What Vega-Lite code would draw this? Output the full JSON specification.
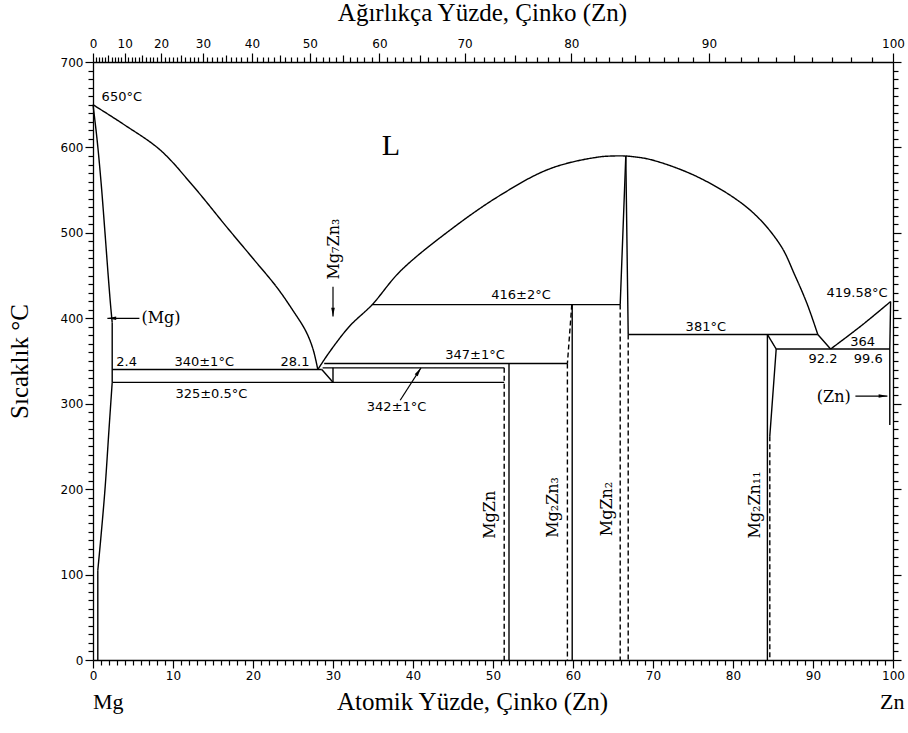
{
  "$schema": "https://vega.github.io/schema/vega-lite/v6.json",
  "autosize": "none",
  "width": 800,
  "height": 598,
  "padding": {"top": 62, "left": 93, "right": 15, "bottom": 73},
  "background": "white",
  "config": {
    "view": {"stroke": null},
    "axis": {"grid": false, "ticks": true, "domainColor": "black", "tickColor": "black", "labelColor": "black", "titleColor": "black", "domainWidth": 1.3, "tickWidth": 1.2, "labelFont": "DejaVu Sans", "labelFontSize": 12, "labelOverlap": false, "labelFlush": false, "titleFont": "Liberation Serif", "titleFontSize": 25, "titleFontWeight": "normal"}
  },
  "datasets": {
    "boundaries": [
      {"curve": "Mg liquidus", "seq": 1, "zn": 0, "temp": 650, "certainty": "known"},
      {"curve": "Mg liquidus", "seq": 2, "zn": 4, "temp": 626, "certainty": "known"},
      {"curve": "Mg liquidus", "seq": 3, "zn": 8.4, "temp": 597, "certainty": "known"},
      {"curve": "Mg liquidus", "seq": 4, "zn": 12.5, "temp": 555, "certainty": "known"},
      {"curve": "Mg liquidus", "seq": 5, "zn": 16.7, "temp": 507, "certainty": "known"},
      {"curve": "Mg liquidus", "seq": 6, "zn": 20, "temp": 470, "certainty": "known"},
      {"curve": "Mg liquidus", "seq": 7, "zn": 23, "temp": 436, "certainty": "known"},
      {"curve": "Mg liquidus", "seq": 8, "zn": 25, "temp": 409, "certainty": "known"},
      {"curve": "Mg liquidus", "seq": 9, "zn": 26.6, "temp": 385, "certainty": "known"},
      {"curve": "Mg liquidus", "seq": 10, "zn": 27.5, "temp": 364, "certainty": "known"},
      {"curve": "Mg liquidus", "seq": 11, "zn": 28.1, "temp": 340, "certainty": "known"},

      {"curve": "Mg solidus", "seq": 1, "zn": 0, "temp": 650, "certainty": "known"},
      {"curve": "Mg solidus", "seq": 2, "zn": 0.5, "temp": 610, "certainty": "known"},
      {"curve": "Mg solidus", "seq": 3, "zn": 1.0, "temp": 560, "certainty": "known"},
      {"curve": "Mg solidus", "seq": 4, "zn": 1.5, "temp": 500, "certainty": "known"},
      {"curve": "Mg solidus", "seq": 5, "zn": 1.9, "temp": 450, "certainty": "known"},
      {"curve": "Mg solidus", "seq": 6, "zn": 2.2, "temp": 415, "certainty": "known"},
      {"curve": "Mg solidus", "seq": 7, "zn": 2.4, "temp": 395, "certainty": "known"},
      {"curve": "Mg solidus limit", "seq": 1, "zn": 2.4, "temp": 395, "certainty": "known"},
      {"curve": "Mg solidus limit", "seq": 2, "zn": 2.4, "temp": 325, "certainty": "known"},

      {"curve": "Mg solvus", "seq": 1, "zn": 2.4, "temp": 325, "certainty": "known"},
      {"curve": "Mg solvus", "seq": 2, "zn": 2.0, "temp": 270, "certainty": "known"},
      {"curve": "Mg solvus", "seq": 3, "zn": 1.5, "temp": 200, "certainty": "known"},
      {"curve": "Mg solvus", "seq": 4, "zn": 1.0, "temp": 145, "certainty": "known"},
      {"curve": "Mg solvus", "seq": 5, "zn": 0.6, "temp": 105, "certainty": "known"},
      {"curve": "Mg solvus low", "seq": 1, "zn": 0.6, "temp": 105, "certainty": "known"},
      {"curve": "Mg solvus low", "seq": 2, "zn": 0.6, "temp": 0, "certainty": "known"},

      {"curve": "eutectic 340", "seq": 1, "zn": 2.4, "temp": 340, "certainty": "known"},
      {"curve": "eutectic 340", "seq": 2, "zn": 28.6, "temp": 340, "certainty": "known"},
      {"curve": "Mg7Zn3 lower", "seq": 1, "zn": 28.6, "temp": 340, "certainty": "known"},
      {"curve": "Mg7Zn3 lower", "seq": 2, "zn": 30, "temp": 325, "certainty": "known"},

      {"curve": "Mg7Zn3", "seq": 1, "zn": 30, "temp": 342, "certainty": "known"},
      {"curve": "Mg7Zn3", "seq": 2, "zn": 30, "temp": 325, "certainty": "known"},

      {"curve": "peritectic 342", "seq": 1, "zn": 28.7, "temp": 342, "certainty": "known"},
      {"curve": "peritectic 342", "seq": 2, "zn": 51.4, "temp": 342, "certainty": "known"},

      {"curve": "peritectic 347", "seq": 1, "zn": 28.9, "temp": 347, "certainty": "known"},
      {"curve": "peritectic 347", "seq": 2, "zn": 59.3, "temp": 347, "certainty": "known"},

      {"curve": "eutectoid 325", "seq": 1, "zn": 2.4, "temp": 325, "certainty": "known"},
      {"curve": "eutectoid 325", "seq": 2, "zn": 51.4, "temp": 325, "certainty": "known"},

      {"curve": "MgZn right", "seq": 1, "zn": 52, "temp": 347, "certainty": "known"},
      {"curve": "MgZn right", "seq": 2, "zn": 52, "temp": 0, "certainty": "known"},
      {"curve": "MgZn left", "seq": 1, "zn": 51.4, "temp": 342, "certainty": "uncertain"},
      {"curve": "MgZn left", "seq": 2, "zn": 51.4, "temp": 0, "certainty": "uncertain"},

      {"curve": "Mg2Zn3 right", "seq": 1, "zn": 59.9, "temp": 416, "certainty": "known"},
      {"curve": "Mg2Zn3 right", "seq": 2, "zn": 59.9, "temp": 0, "certainty": "known"},
      {"curve": "Mg2Zn3 left", "seq": 1, "zn": 59.85, "temp": 416, "certainty": "uncertain"},
      {"curve": "Mg2Zn3 left", "seq": 2, "zn": 59.3, "temp": 347, "certainty": "uncertain"},
      {"curve": "Mg2Zn3 left low", "seq": 1, "zn": 59.3, "temp": 347, "certainty": "uncertain"},
      {"curve": "Mg2Zn3 left low", "seq": 2, "zn": 59.3, "temp": 0, "certainty": "uncertain"},

      {"curve": "peritectic 416", "seq": 1, "zn": 34.9, "temp": 416, "certainty": "known"},
      {"curve": "peritectic 416", "seq": 2, "zn": 65.9, "temp": 416, "certainty": "known"},

      {"curve": "MgZn2 liquidus left", "seq": 1, "zn": 28.1, "temp": 340, "certainty": "known"},
      {"curve": "MgZn2 liquidus left", "seq": 2, "zn": 29.6, "temp": 361, "certainty": "known"},
      {"curve": "MgZn2 liquidus left", "seq": 3, "zn": 32.1, "temp": 391, "certainty": "known"},
      {"curve": "MgZn2 liquidus left", "seq": 4, "zn": 34.9, "temp": 416, "certainty": "known"},
      {"curve": "MgZn2 liquidus left", "seq": 5, "zn": 38.4, "temp": 455, "certainty": "known"},
      {"curve": "MgZn2 liquidus left", "seq": 6, "zn": 44.6, "temp": 503, "certainty": "known"},
      {"curve": "MgZn2 liquidus left", "seq": 7, "zn": 50.9, "temp": 544, "certainty": "known"},
      {"curve": "MgZn2 liquidus left", "seq": 8, "zn": 57.1, "temp": 575, "certainty": "known"},
      {"curve": "MgZn2 liquidus left", "seq": 9, "zn": 63.4, "temp": 589, "certainty": "known"},
      {"curve": "MgZn2 liquidus left", "seq": 10, "zn": 66.6, "temp": 590, "certainty": "known"},

      {"curve": "MgZn2 liquidus right", "seq": 1, "zn": 66.6, "temp": 590, "certainty": "known"},
      {"curve": "MgZn2 liquidus right", "seq": 2, "zn": 69.6, "temp": 586, "certainty": "known"},
      {"curve": "MgZn2 liquidus right", "seq": 3, "zn": 75.9, "temp": 564, "certainty": "known"},
      {"curve": "MgZn2 liquidus right", "seq": 4, "zn": 82.1, "temp": 527, "certainty": "known"},
      {"curve": "MgZn2 liquidus right", "seq": 5, "zn": 85.9, "temp": 486, "certainty": "known"},
      {"curve": "MgZn2 liquidus right", "seq": 6, "zn": 87.75, "temp": 450, "certainty": "known"},
      {"curve": "MgZn2 liquidus right", "seq": 7, "zn": 89.3, "temp": 416, "certainty": "known"},
      {"curve": "MgZn2 liquidus right", "seq": 8, "zn": 90.6, "temp": 381, "certainty": "known"},
      {"curve": "Mg2Zn11 liquidus", "seq": 1, "zn": 90.6, "temp": 381, "certainty": "known"},
      {"curve": "Mg2Zn11 liquidus", "seq": 2, "zn": 92.2, "temp": 364, "certainty": "known"},

      {"curve": "Zn liquidus", "seq": 1, "zn": 92.2, "temp": 364, "certainty": "known"},
      {"curve": "Zn liquidus", "seq": 2, "zn": 96, "temp": 391, "certainty": "known"},
      {"curve": "Zn liquidus", "seq": 3, "zn": 99.7, "temp": 419.58, "certainty": "known"},

      {"curve": "peritectic 381", "seq": 1, "zn": 66.9, "temp": 381, "certainty": "known"},
      {"curve": "peritectic 381", "seq": 2, "zn": 90.6, "temp": 381, "certainty": "known"},

      {"curve": "MgZn2 solidus left", "seq": 1, "zn": 66.6, "temp": 590, "certainty": "known"},
      {"curve": "MgZn2 solidus left", "seq": 2, "zn": 65.9, "temp": 416, "certainty": "known"},
      {"curve": "MgZn2 solidus right", "seq": 1, "zn": 66.6, "temp": 590, "certainty": "known"},
      {"curve": "MgZn2 solidus right", "seq": 2, "zn": 66.9, "temp": 381, "certainty": "known"},
      {"curve": "MgZn2 solvus left", "seq": 1, "zn": 65.9, "temp": 416, "certainty": "uncertain"},
      {"curve": "MgZn2 solvus left", "seq": 2, "zn": 65.9, "temp": 0, "certainty": "uncertain"},
      {"curve": "MgZn2 solvus right", "seq": 1, "zn": 66.9, "temp": 381, "certainty": "uncertain"},
      {"curve": "MgZn2 solvus right", "seq": 2, "zn": 66.9, "temp": 0, "certainty": "uncertain"},

      {"curve": "Mg2Zn11 left", "seq": 1, "zn": 84.3, "temp": 381, "certainty": "known"},
      {"curve": "Mg2Zn11 left", "seq": 2, "zn": 84.3, "temp": 0, "certainty": "known"},
      {"curve": "Mg2Zn11 upper", "seq": 1, "zn": 84.3, "temp": 381, "certainty": "known"},
      {"curve": "Mg2Zn11 upper", "seq": 2, "zn": 85.4, "temp": 364, "certainty": "known"},
      {"curve": "Mg2Zn11 right", "seq": 1, "zn": 85.4, "temp": 364, "certainty": "known"},
      {"curve": "Mg2Zn11 right", "seq": 2, "zn": 84.6, "temp": 262, "certainty": "known"},
      {"curve": "Mg2Zn11 solvus", "seq": 1, "zn": 84.6, "temp": 262, "certainty": "uncertain"},
      {"curve": "Mg2Zn11 solvus", "seq": 2, "zn": 84.6, "temp": 0, "certainty": "uncertain"},

      {"curve": "eutectic 364", "seq": 1, "zn": 85.4, "temp": 364, "certainty": "known"},
      {"curve": "eutectic 364", "seq": 2, "zn": 99.6, "temp": 364, "certainty": "known"},

      {"curve": "Zn solidus", "seq": 1, "zn": 99.7, "temp": 419.58, "certainty": "known"},
      {"curve": "Zn solidus", "seq": 2, "zn": 99.6, "temp": 364, "certainty": "known"},
      {"curve": "Zn solvus", "seq": 1, "zn": 99.6, "temp": 364, "certainty": "known"},
      {"curve": "Zn solvus", "seq": 2, "zn": 99.6, "temp": 275, "certainty": "known"}
    ],
    "pointers": [
      {"target": "(Mg)", "zn": 5.8, "temp": 400, "zn2": 1.8, "temp2": 400, "heading": 270},
      {"target": "(Zn)", "zn": 95.3, "temp": 309, "zn2": 99.3, "temp2": 309, "heading": 90},
      {"target": "Mg7Zn3", "zn": 30, "temp": 437, "zn2": 30, "temp2": 402, "heading": 180},
      {"target": "342", "zn": 38.4, "temp": 304, "zn2": 41, "temp2": 342, "heading": 33}
    ],
    "labels": [
      {"text": "650°C", "zn": 3.6, "temp": 659, "kind": "reading"},
      {"text": "2.4", "zn": 4.2, "temp": 349, "kind": "reading"},
      {"text": "340±1°C", "zn": 13.9, "temp": 349, "kind": "reading"},
      {"text": "28.1", "zn": 25.25, "temp": 349, "kind": "reading"},
      {"text": "325±0.5°C", "zn": 14.8, "temp": 311.5, "kind": "reading"},
      {"text": "347±1°C", "zn": 47.75, "temp": 357, "kind": "reading"},
      {"text": "342±1°C", "zn": 37.95, "temp": 296, "kind": "reading"},
      {"text": "416±2°C", "zn": 53.5, "temp": 427, "kind": "reading"},
      {"text": "381°C", "zn": 76.6, "temp": 390, "kind": "reading"},
      {"text": "419.58°C", "zn": 95.5, "temp": 430, "kind": "reading"},
      {"text": "364", "zn": 96.2, "temp": 372.7, "kind": "reading"},
      {"text": "92.2", "zn": 91.25, "temp": 352.5, "kind": "reading"},
      {"text": "99.6", "zn": 96.9, "temp": 352.5, "kind": "reading"},
      {"text": "L", "zn": 37.25, "temp": 602, "kind": "liquid"},
      {"text": "(Mg)", "zn": 8.5, "temp": 400.5, "kind": "solution"},
      {"text": "(Zn)", "zn": 92.6, "temp": 308, "kind": "solution"},
      {"text": "Mg₇Zn₃", "zn": 30.1, "temp": 481, "kind": "compound"},
      {"text": "MgZn", "zn": 49.6, "temp": 170, "kind": "compound"},
      {"text": "Mg₂Zn₃", "zn": 57.5, "temp": 178.6, "kind": "compound"},
      {"text": "MgZn₂", "zn": 64.25, "temp": 176.8, "kind": "compound"},
      {"text": "Mg₂Zn₁₁", "zn": 82.75, "temp": 181.5, "kind": "compound"},
      {"text": "Mg", "zn": 1.9, "temp": -49, "kind": "element"},
      {"text": "Zn", "zn": 99.9, "temp": -49, "kind": "element"}
    ]
  },
  "resolve": {"axis": {"x": "independent", "y": "independent"}},
  "layer": [
    {
      "data": {"name": "boundaries"},
      "mark": {"type": "line", "color": "black", "strokeWidth": 1.4, "interpolate": "catmull-rom"},
      "encoding": {
        "x": {"field": "zn", "type": "quantitative", "scale": {"domain": [0, 100], "nice": false, "zero": false},
          "axis": {"orient": "bottom", "tickCount": 100, "labelExpr": "datum.value % 10 === 0 ? datum.label : ''",
            "tickSize": {"condition": {"test": "datum.value % 10 === 0", "value": 8}, "value": 5},
            "labelPadding": 2, "title": "Atomik Yüzde, Çinko (Zn)", "titlePadding": 8, "titleX": 379}},
        "y": {"field": "temp", "type": "quantitative", "scale": {"domain": [0, 700], "nice": false, "zero": false},
          "axis": {"orient": "left", "tickCount": 70, "labelExpr": "datum.value % 100 === 0 ? datum.label : ''",
            "tickSize": {"condition": {"test": "datum.value % 100 === 0", "value": 8}, "value": 5},
            "labelPadding": 2, "title": "Sıcaklık °C", "titlePadding": 28}},
        "detail": {"field": "curve"},
        "order": {"field": "seq"},
        "strokeDash": {"field": "certainty", "type": "nominal", "scale": {"domain": ["known", "uncertain"], "range": [[1, 0], [5, 3]]}, "legend": null}
      }
    },
    {
      "data": {"name": "pointers"},
      "mark": {"type": "rule", "color": "black", "strokeWidth": 1.2},
      "encoding": {
        "x": {"field": "zn", "type": "quantitative", "scale": {"domain": [0, 100], "nice": false, "zero": false}, "axis": null},
        "y": {"field": "temp", "type": "quantitative", "scale": {"domain": [0, 700], "nice": false, "zero": false}, "axis": null},
        "x2": {"field": "zn2"},
        "y2": {"field": "temp2"}
      }
    },
    {
      "data": {"name": "pointers"},
      "mark": {"type": "point", "filled": true, "color": "black", "opacity": 1, "size": 64, "shape": "M0,0L-0.45,2.2L0.45,2.2Z"},
      "encoding": {
        "x": {"field": "zn2", "type": "quantitative", "scale": {"domain": [0, 100], "nice": false, "zero": false},
          "axis": {"orient": "top",
            "values": [0, 0.374, 0.753, 1.137, 1.525, 1.919, 2.318, 2.722, 3.132, 3.546, 3.967, 4.393, 4.825, 5.263, 5.707, 6.157, 6.613, 7.076, 7.545, 8.021, 8.504, 8.993, 9.49, 9.995, 10.506, 11.026, 11.553, 12.088, 12.631, 13.183, 13.743, 14.312, 14.89, 15.477, 16.073, 16.679, 17.295, 17.921, 18.557, 19.204, 19.862, 20.53, 21.211, 21.902, 22.607, 23.323, 24.052, 24.793, 25.549, 26.318, 27.101, 27.899, 28.71, 29.539, 30.382, 31.242, 32.118, 33.012, 33.923, 34.852, 35.8, 36.768, 37.755, 38.763, 39.791, 40.843, 41.916, 43.013, 44.133, 45.28, 46.452, 47.649, 48.874, 50.129, 51.411, 52.725, 54.07, 55.448, 56.861, 58.308, 59.792, 61.313, 62.875, 64.477, 66.121, 67.811, 69.548, 71.33, 73.163, 75.048, 76.989, 78.987, 81.043, 83.162, 85.347, 87.598, 89.922, 92.319, 94.797, 97.356, 100],
            "labelExpr": "indexof([0, 3.967, 8.504, 13.743, 19.862, 27.101, 35.8, 46.452, 59.792, 76.989, 100], datum.value) >= 0 ? '' + indexof([0, 3.967, 8.504, 13.743, 19.862, 27.101, 35.8, 46.452, 59.792, 76.989, 100], datum.value) * 10 : ''",
            "tickSize": {"condition": [
              {"test": "indexof([0, 3.967, 8.504, 13.743, 19.862, 27.101, 35.8, 46.452, 59.792, 76.989, 100], datum.value) >= 0", "value": 9},
              {"test": "indexof([1.919, 6.157, 11.026, 16.679, 23.323, 31.242, 40.843, 52.725, 67.811, 87.598], datum.value) >= 0", "value": 7}
            ], "value": 5},
            "labelPadding": 3, "title": "Ağırlıkça Yüzde, Çinko (Zn)", "titlePadding": 12, "titleX": 389}},
        "y": {"field": "temp2", "type": "quantitative", "scale": {"domain": [0, 700], "nice": false, "zero": false},
          "axis": {"orient": "right", "tickCount": 70, "labels": false,
            "tickSize": {"condition": {"test": "datum.value % 100 === 0", "value": 8}, "value": 5},
            "title": null}},
        "angle": {"field": "heading", "type": "quantitative", "scale": null}
      }
    },
    {
      "data": {"name": "labels"},
      "transform": [{"filter": "datum.kind === 'reading'"}],
      "mark": {"type": "text", "font": "DejaVu Sans", "fontSize": 13, "color": "black", "align": "center", "baseline": "middle"},
      "encoding": {
        "x": {"field": "zn", "type": "quantitative", "scale": {"domain": [0, 100], "nice": false, "zero": false}, "axis": null},
        "y": {"field": "temp", "type": "quantitative", "scale": {"domain": [0, 700], "nice": false, "zero": false}, "axis": null},
        "text": {"field": "text"}
      }
    },
    {
      "data": {"name": "labels"},
      "transform": [{"filter": "datum.kind === 'compound'"}],
      "mark": {"type": "text", "font": "DejaVu Serif", "fontSize": 16, "color": "black", "align": "center", "baseline": "middle", "angle": 270},
      "encoding": {
        "x": {"field": "zn", "type": "quantitative", "scale": {"domain": [0, 100], "nice": false, "zero": false}, "axis": null},
        "y": {"field": "temp", "type": "quantitative", "scale": {"domain": [0, 700], "nice": false, "zero": false}, "axis": null},
        "text": {"field": "text"}
      }
    },
    {
      "data": {"name": "labels"},
      "transform": [{"filter": "datum.kind === 'solution'"}],
      "mark": {"type": "text", "font": "DejaVu Serif", "fontSize": 16, "color": "black", "align": "center", "baseline": "middle"},
      "encoding": {
        "x": {"field": "zn", "type": "quantitative", "scale": {"domain": [0, 100], "nice": false, "zero": false}, "axis": null},
        "y": {"field": "temp", "type": "quantitative", "scale": {"domain": [0, 700], "nice": false, "zero": false}, "axis": null},
        "text": {"field": "text"}
      }
    },
    {
      "data": {"name": "labels"},
      "transform": [{"filter": "datum.kind === 'liquid'"}],
      "mark": {"type": "text", "font": "Liberation Serif", "fontSize": 30, "color": "black", "align": "center", "baseline": "middle"},
      "encoding": {
        "x": {"field": "zn", "type": "quantitative", "scale": {"domain": [0, 100], "nice": false, "zero": false}, "axis": null},
        "y": {"field": "temp", "type": "quantitative", "scale": {"domain": [0, 700], "nice": false, "zero": false}, "axis": null},
        "text": {"field": "text"}
      }
    },
    {
      "data": {"name": "labels"},
      "transform": [{"filter": "datum.kind === 'element'"}],
      "mark": {"type": "text", "font": "Liberation Serif", "fontSize": 22, "color": "black", "align": "center", "baseline": "middle"},
      "encoding": {
        "x": {"field": "zn", "type": "quantitative", "scale": {"domain": [0, 100], "nice": false, "zero": false}, "axis": null},
        "y": {"field": "temp", "type": "quantitative", "scale": {"domain": [0, 700], "nice": false, "zero": false}, "axis": null},
        "text": {"field": "text"}
      }
    }
  ]
}
